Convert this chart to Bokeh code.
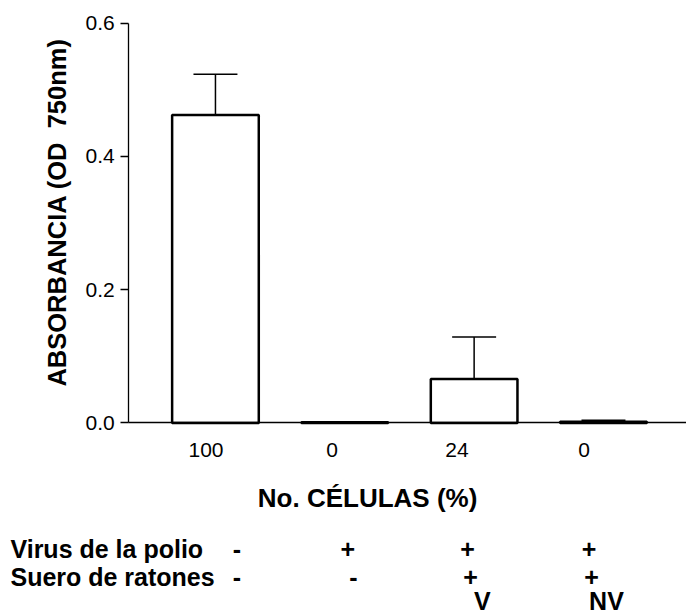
import math
from bokeh.plotting import figure
from bokeh.models import FixedTicker, Label, Range1d, ColumnDataSource, LinearAxis
from bokeh.embed import file_html
from bokeh.resources import INLINE

# ---- data ----
cell_pct = ["100", "0", "24", "0"]          # x tick labels (No. CÉLULAS %)
absorbance = [0.462, 0.001, 0.066, 0.002]   # bar heights (OD 750nm)
sem = [0.061, 0.0, 0.063, 0.002]            # upper error
polio = ["-", "+", "+", "+"]
suero = ["-", "-", "+", "+"]
suero_tipo = ["", "", "V", "NV"]
y_ticks = [0.0, 0.2, 0.4, 0.6]

pos = [1, 2, 3, 4]
# small layout shifts (data units) for texts, as in the original figure
label_shift = [-0.073, -0.098, -0.133, -0.15]
row1_shift = [0.166, 0.024, -0.051, -0.112]
row2_shift = [0.166, 0.067, -0.028, -0.093]
row3_shift = [0.0, 0.0, 0.064, 0.023]

FONT = "Liberation Sans"
# axis extents (data units); the drawing area spans the whole canvas so that
# the texts below the x axis are not clipped
XA0, XA1 = 0.33, 4.642
YA0, YA1 = 0.0, 0.6

p = figure(width=686, height=613, output_backend="svg", toolbar_location=None,
           x_range=Range1d(-0.662, XA1), y_range=Range1d(-0.2858, 0.6338),
           x_axis_location=None, y_axis_location=None,
           min_border=0, min_border_left=0, min_border_right=0,
           min_border_top=0, min_border_bottom=0)
p.outline_line_color = None
p.grid.visible = False
p.background_fill_color = "white"
p.border_fill_color = "white"

src = ColumnDataSource(dict(x=pos, top=absorbance))
ex = [x for x, e in zip(pos, sem) if e > 0]
eb = [a for a, e in zip(absorbance, sem) if e > 0]
et = [a + e for a, e in zip(absorbance, sem) if e > 0]
p.segment(x0=ex, y0=eb, x1=ex, y1=et, line_color="black", line_width=1.5)
p.segment(x0=[x - 0.17 for x in ex], y0=et, x1=[x + 0.17 for x in ex], y1=et,
          line_color="black", line_width=1.5)
p.vbar(x="x", top="top", bottom=0, width=0.67, source=src,
       fill_color="white", line_color="black", line_width=2.5)

# y axis
ya = LinearAxis(fixed_location=XA0, bounds=(YA0, YA1))
ya.ticker = FixedTicker(ticks=y_ticks)
ya.major_label_overrides = {t: f"{t:.1f}" for t in y_ticks}
ya.minor_tick_line_color = None
ya.major_tick_in = 0
ya.major_tick_out = 8
ya.major_label_standoff = 6
ya.axis_line_color = "black"
ya.axis_line_width = 1.3
ya.major_tick_line_color = "black"
ya.major_tick_line_width = 1.3
ya.major_label_text_font = FONT
ya.major_label_text_font_size = "21px"
ya.major_label_text_color = "black"
p.add_layout(ya, "left")

# x axis
tick_pos = [x + s for x, s in zip(pos, label_shift)]
xa = LinearAxis(fixed_location=YA0, bounds=(XA0, XA1))
xa.ticker = FixedTicker(ticks=tick_pos)
xa.major_label_overrides = {t: l for t, l in zip(tick_pos, cell_pct)}
xa.minor_tick_line_color = None
xa.major_tick_line_color = None
xa.major_tick_in = 0
xa.major_tick_out = 0
xa.major_label_standoff = 20
xa.axis_line_color = "black"
xa.axis_line_width = 1.3
xa.major_label_text_font = FONT
xa.major_label_text_font_size = "21px"
xa.major_label_text_color = "black"
p.add_layout(xa, "below")


def bold_label(x, y, text, align="center", baseline="alphabetic", angle=0.0,
               size="25px"):
    p.add_layout(Label(x=x, y=y, x_units="data", y_units="data", text=text,
                       angle=angle, text_font=FONT, text_font_size=size,
                       text_font_style="bold", text_color="black",
                       text_align=align, text_baseline=baseline))


# axis titles
bold_label(-0.229, 0.316, "ABSORBANCIA (OD \u00a0750nm)", baseline="middle",
           angle=math.pi / 2, size="25.5px")
bold_label(2.176, -0.112, "No. CÉLULAS (%)", size="26px")

# treatment table below the axis
rows = [("Virus de la polio", polio, row1_shift, -0.1883),
        ("Suero de ratones", suero, row2_shift, -0.2303),
        ("", suero_tipo, row3_shift, -0.2663)]
for name, syms, shifts, yy in rows:
    if name:
        bold_label(-0.585, yy, name, align="left")
    for x, s, sh in zip(pos, syms, shifts):
        if s:
            bold_label(x + sh, yy, s)

open("out.html", "w").write(file_html(p, INLINE))
